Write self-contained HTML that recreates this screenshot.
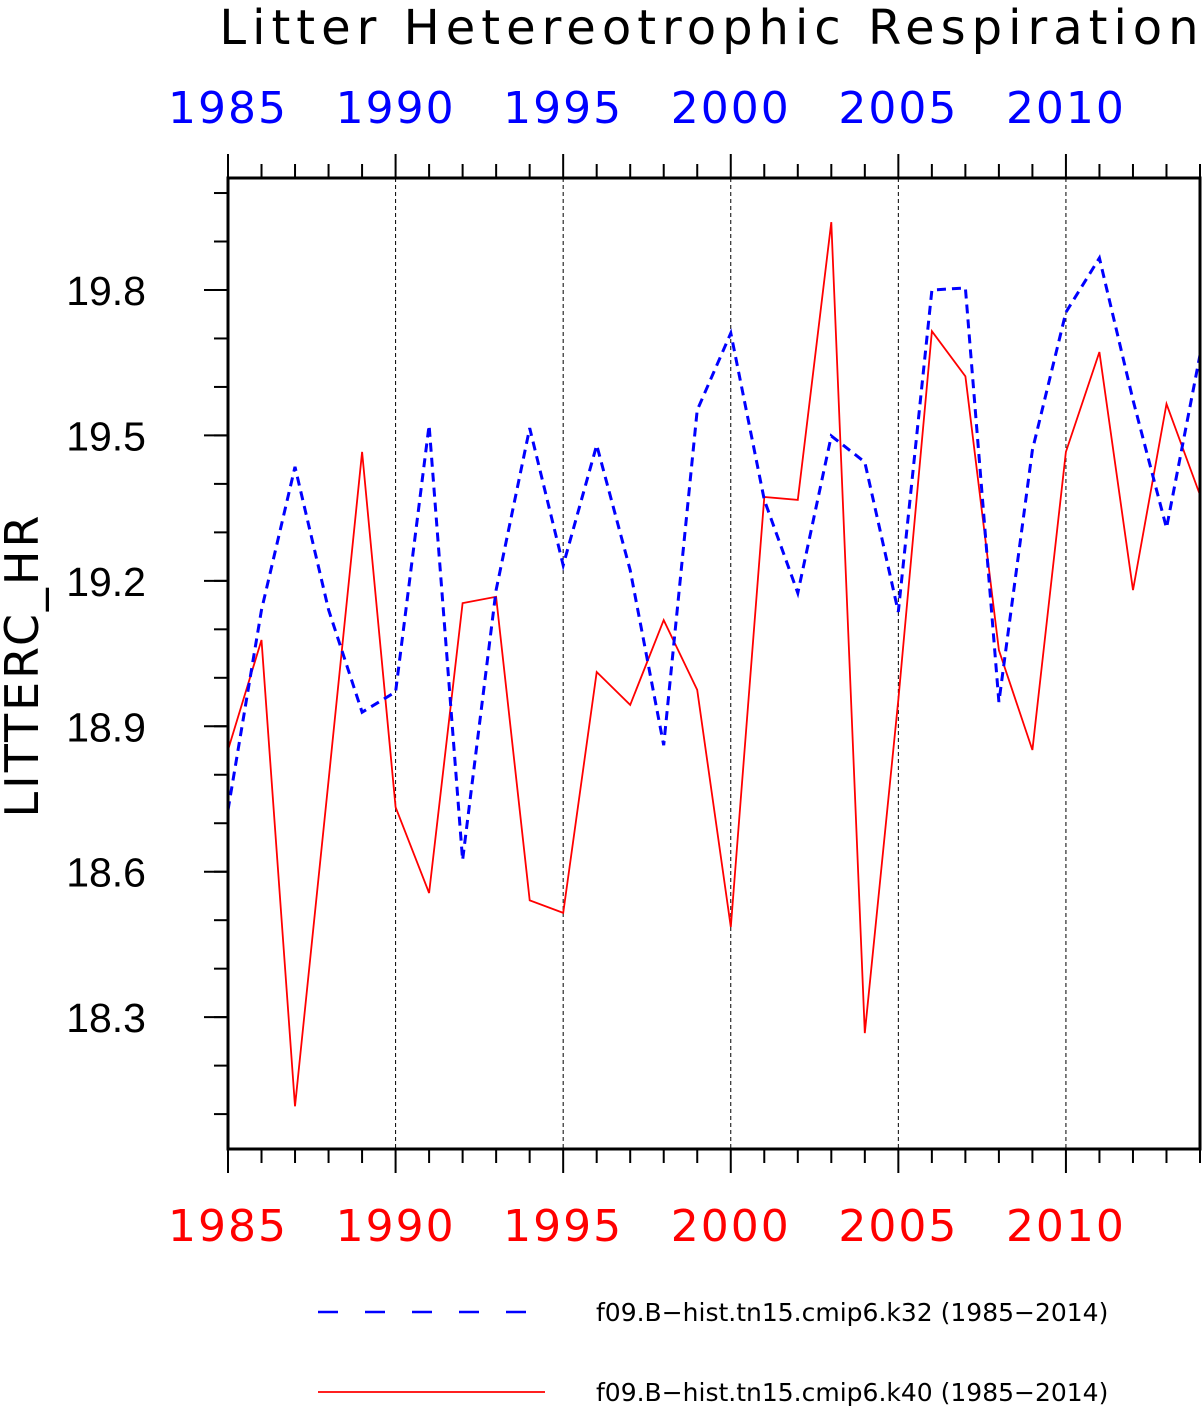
<!DOCTYPE html>
<html><head><meta charset="utf-8">
<style>
html,body{margin:0;padding:0;background:#fff;}
svg{display:block;font-family:"DejaVu Sans","Liberation Sans",sans-serif;}
</style></head>
<body>
<svg id="chart" width="1202" height="1407" viewBox="0 0 1202 1407" xmlns="http://www.w3.org/2000/svg">
<text x="712" y="44" font-size="48" text-anchor="middle" letter-spacing="6" fill="#000">Litter Hetereotrophic Respiration</text>
<text transform="translate(38,665) rotate(-90)" font-size="46" text-anchor="middle" letter-spacing="3" fill="#000">LITTERC_HR</text>
<g id="grid"></g>
<g id="ticks"></g>
<g id="series"></g>
<rect x="228" y="178" width="972" height="971" fill="none" stroke="#000" stroke-width="3"/>
<g>
<line x1="318" y1="1312" x2="545" y2="1312" stroke="#0000ff" stroke-width="2.5" stroke-dasharray="20,27"/>
<text x="596" y="1321" font-size="25" fill="#000">f09.B−hist.tn15.cmip6.k32 (1985−2014)</text>
<line x1="318" y1="1392" x2="545" y2="1392" stroke="#ff0000" stroke-width="1.8"/>
<text x="596" y="1401" font-size="25" fill="#000">f09.B−hist.tn15.cmip6.k40 (1985−2014)</text>
</g>
</svg>
<script>
const years = [1985,1986,1987,1988,1989,1990,1991,1992,1993,1994,1995,1996,1997,1998,1999,2000,2001,2002,2003,2004,2005,2006,2007,2008,2009,2010,2011,2012,2013,2014];
const k40Values = [18.851,19.078,18.116,18.789,19.466,18.733,18.556,19.154,19.167,18.541,18.515,19.012,18.944,19.119,18.975,18.486,19.373,19.367,19.940,18.267,18.954,19.715,19.622,19.057,18.851,19.466,19.672,19.181,19.565,19.377];
const k32Values = [18.727,19.140,19.435,19.140,18.929,18.971,19.521,18.624,19.181,19.515,19.232,19.480,19.222,18.861,19.552,19.711,19.367,19.175,19.499,19.445,19.136,19.800,19.804,18.950,19.470,19.754,19.866,19.573,19.309,19.666];
const xTickLabels = ["1985","1990","1995","2000","2005","2010"];
const yTickLabels = ["18.3","18.6","18.9","19.2","19.5","19.8"];

const NS="http://www.w3.org/2000/svg";
const X0=228,X1=1200,Y0=178,Y1=1149;
const xMin=1985,xMax=2014,yMin=18.028,yMax=20.031;
function xs(v){return X0+(v-xMin)/(xMax-xMin)*(X1-X0);}
function ys(v){return Y1-(v-yMin)/(yMax-yMin)*(Y1-Y0);}
function mk(tag,attrs,parent){const e=document.createElementNS(NS,tag);for(const k in attrs)e.setAttribute(k,attrs[k]);parent.appendChild(e);return e;}
const grid=document.getElementById('grid'),ticks=document.getElementById('ticks'),series=document.getElementById('series');

for(let y=xMin;y<=xMax;y++){
  const x=xs(y), major=(y%5===0);
  if(major && y>xMin){
    const g=mk('line',{x1:x,y1:Y0,x2:x,y2:Y1,stroke:'#000','stroke-width':1,'stroke-dasharray':'4,3'},grid);
    
    
  }
  const len=major?24:14;
  const t1=mk('line',{x1:x,y1:Y0,x2:x,y2:Y0-len,stroke:'#000','stroke-width':2},ticks);
  
  
  const t2=mk('line',{x1:x,y1:Y1,x2:x,y2:Y1+len,stroke:'#000','stroke-width':2},ticks);
  
  
}
xTickLabels.forEach(l=>{
  const x=xs(+l);
  const a=mk('text',{x:x,y:123,'font-size':44,'text-anchor':'middle','letter-spacing':2,fill:'#0000ff'},ticks);
  a.textContent=l;
  
  
  const b=mk('text',{x:x,y:1241,'font-size':44,'text-anchor':'middle','letter-spacing':2,fill:'#ff0000'},ticks);
  b.textContent=l;
  
  
});
for(let i=0;i<=20;i++){
  const v=18.1+i*0.1; if(v>yMax) break;
  const y=ys(v);
  const t=mk('line',{x1:X0,y1:y,x2:X0-14,y2:y,stroke:'#000','stroke-width':2},ticks);
  
  
}
yTickLabels.forEach(l=>{
  const y=ys(+l);
  const t=mk('line',{x1:X0,y1:y,x2:X0-24,y2:y,stroke:'#000','stroke-width':2},ticks);
  
  
  const tx=mk('text',{x:146,y:y+15,'font-size':41,'font-family':'Liberation Sans, sans-serif','text-anchor':'end',fill:'#000'},ticks);
  tx.textContent=l;
  
  
});
function pts(vals){return vals.map((v,i)=>xs(years[i]).toFixed(1)+','+ys(v).toFixed(1)).join(' ');}
const r=mk('polyline',{points:pts(k40Values),fill:'none',stroke:'#ff0000','stroke-width':1.8},series);


const bl=mk('polyline',{points:pts(k32Values),fill:'none',stroke:'#0000ff','stroke-width':3,'stroke-dasharray':'9,6'},series);


</script>
</body></html>
